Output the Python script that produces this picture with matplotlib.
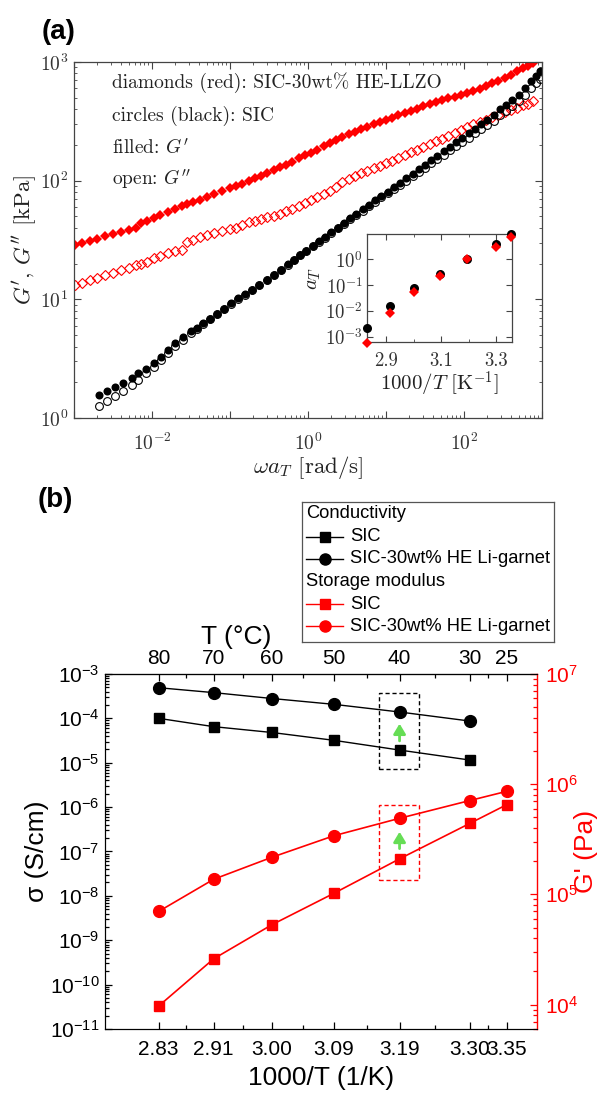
import numpy as np
import matplotlib.pyplot as plt
from matplotlib.patches import Rectangle
from matplotlib.ticker import NullFormatter

plt.rcParams['font.family'] = ['Liberation Sans', 'DejaVu Sans']
plt.rcParams['mathtext.fontset'] = 'custom'
plt.rcParams['mathtext.rm'] = 'Liberation Sans'
plt.rcParams['mathtext.it'] = 'Liberation Sans:italic'
plt.rcParams['mathtext.bf'] = 'Liberation Sans:bold'

CM = ['cmr10', 'DejaVu Serif']

# ---- panel (a): master curves, log10 values ----
red_logw = [-2.99, -2.90, -2.80, -2.70, -2.60, -2.50, -2.40, -2.30, -2.20, -2.14,
            -2.06, -1.98, -1.90, -1.80, -1.70, -1.62, -1.55, -1.47, -1.38, -1.30,
            -1.20, -1.10, -1.00, -0.92, -0.85, -0.76, -0.68, -0.60, -0.52, -0.44,
            -0.36, -0.28, -0.20, -0.12, -0.04, 0.04, 0.12, 0.20, 0.28, 0.36,
            0.44, 0.52, 0.60, 0.68, 0.76, 0.84, 0.92, 1.00, 1.08, 1.16,
            1.24, 1.32, 1.40, 1.48, 1.56, 1.64, 1.72, 1.80, 1.88, 1.96,
            2.04, 2.12, 2.20, 2.28, 2.36, 2.44, 2.52, 2.60, 2.68, 2.76,
            2.82, 2.88]
red_logGp = [1.457, 1.474, 1.494, 1.512, 1.532, 1.550, 1.567, 1.584, 1.600, 1.640,
             1.662, 1.686, 1.710, 1.738, 1.762, 1.786, 1.800, 1.818, 1.838, 1.860,
             1.885, 1.910, 1.936, 1.958, 1.975, 1.998, 2.020, 2.042, 2.065, 2.088,
             2.112, 2.136, 2.160, 2.190, 2.212, 2.236, 2.262, 2.290, 2.318, 2.345,
             2.368, 2.392, 2.412, 2.436, 2.456, 2.474, 2.492, 2.510, 2.530, 2.550,
             2.568, 2.588, 2.606, 2.625, 2.645, 2.662, 2.678, 2.694, 2.708, 2.722,
             2.738, 2.756, 2.776, 2.798, 2.820, 2.842, 2.866, 2.892, 2.920, 2.946,
             2.966, 2.990]
red_logGpp = [1.120, 1.140, 1.162, 1.183, 1.202, 1.222, 1.243, 1.265, 1.288, 1.300,
              1.318, 1.345, 1.365, 1.388, 1.405, 1.418, 1.480, 1.500, 1.527, 1.540,
              1.556, 1.572, 1.590, 1.605, 1.630, 1.648, 1.660, 1.675, 1.690, 1.705,
              1.722, 1.740, 1.758, 1.790, 1.812, 1.835, 1.860, 1.885, 1.910, 1.950,
              1.985, 2.015, 2.040, 2.062, 2.085, 2.105, 2.125, 2.145, 2.165, 2.190,
              2.215, 2.240, 2.262, 2.285, 2.308, 2.330, 2.352, 2.375, 2.398, 2.425,
              2.452, 2.475, 2.495, 2.515, 2.535, 2.555, 2.575, 2.595, 2.615, 2.635,
              2.650, 2.668]

blk_logw = [-2.68, -2.58, -2.47, -2.37, -2.26, -2.18, -2.08, -1.98, -1.88, -1.79,
            -1.70, -1.60, -1.50, -1.42, -1.34, -1.26, -1.17, -1.08, -0.99, -0.90,
            -0.81, -0.72, -0.63, -0.53, -0.44, -0.35, -0.26, -0.18, -0.10, -0.02,
            0.06, 0.14, 0.22, 0.30, 0.38, 0.46, 0.54, 0.62, 0.70, 0.78,
            0.86, 0.94, 1.02, 1.10, 1.18, 1.26, 1.34, 1.42, 1.50, 1.58,
            1.66, 1.74, 1.82, 1.90, 1.98, 2.06, 2.14, 2.22, 2.30, 2.38,
            2.46, 2.54, 2.62, 2.70, 2.78, 2.86, 2.92, 2.97]
blk_logGp = [0.194, 0.227, 0.258, 0.292, 0.334, 0.376, 0.415, 0.460, 0.515, 0.573,
             0.628, 0.685, 0.730, 0.762, 0.800, 0.838, 0.880, 0.922, 0.965, 1.008,
             1.045, 1.082, 1.120, 1.163, 1.205, 1.250, 1.295, 1.335, 1.373, 1.410,
             1.448, 1.488, 1.528, 1.566, 1.605, 1.645, 1.685, 1.722, 1.760, 1.798,
             1.836, 1.872, 1.908, 1.944, 1.982, 2.020, 2.058, 2.096, 2.134, 2.172,
             2.210, 2.248, 2.286, 2.324, 2.362, 2.400, 2.438, 2.476, 2.514, 2.552,
             2.600, 2.640, 2.680, 2.725, 2.780, 2.840, 2.880, 2.920]
blk_logGpp = [0.100, 0.140, 0.185, 0.228, 0.275, 0.320, 0.375, 0.430, 0.488, 0.545,
              0.605, 0.660, 0.712, 0.750, 0.790, 0.830, 0.872, 0.915, 0.958, 1.000,
              1.040, 1.078, 1.118, 1.160, 1.202, 1.245, 1.290, 1.330, 1.370, 1.405,
              1.445, 1.482, 1.520, 1.558, 1.598, 1.636, 1.675, 1.712, 1.748, 1.785,
              1.822, 1.858, 1.893, 1.928, 1.964, 2.000, 2.036, 2.072, 2.108, 2.145,
              2.182, 2.218, 2.255, 2.290, 2.326, 2.362, 2.398, 2.434, 2.470, 2.506,
              2.550, 2.588, 2.628, 2.670, 2.720, 2.780, 2.820, 2.855]

# inset: shift factors
temps_C = [80, 70, 60, 50, 40, 30, 25]
blk_aT = [2.1e-3, 0.016, 0.074, 0.26, 1.0, 4.0, 9.5]
red_aT = [6.0e-4, 8.5e-3, 0.052, 0.23, 1.0, 3.0, 7.5]

# ---- panel (b) ----
inv_T_labels = ['2.83', '2.91', '3.00', '3.09', '3.19', '3.30', '3.35']
temp_labels = ['80', '70', '60', '50', '40', '30', '25']
cond_sic = [1.0e-4, 6.5e-5, 4.8e-5, 3.2e-5, 1.93e-5, 1.15e-5]
cond_garnet = [4.9e-4, 3.8e-4, 2.8e-4, 2.07e-4, 1.39e-4, 8.7e-5]
mod_sic = [9.7e3, 2.6e4, 5.3e4, 1.02e5, 2.1e5, 4.4e5, 6.5e5]
mod_garnet = [7.0e4, 1.37e5, 2.17e5, 3.4e5, 4.9e5, 7.1e5, 8.6e5]

inv_T = [1000.0 / (t + 273.15) for t in temps_C]

fig = plt.figure(figsize=(6.01, 10.95), dpi=100)

# ================= (a) =================
ax = fig.add_axes([0.1231, 0.6183, 0.7787, 0.3251])
ax.set_xscale('log')
ax.set_yscale('log')
rw = np.power(10.0, red_logw)
bw = np.power(10.0, blk_logw)
ax.plot(rw, np.power(10.0, red_logGpp), 'D', ms=4.6, mfc='none', mec='red', mew=0.8)
ax.plot(rw, np.power(10.0, red_logGp), 'D', ms=5.4, color='red', mew=0)
ax.plot(bw, np.power(10.0, blk_logGpp), 'o', ms=5.6, mfc='none', mec='black', mew=0.8)
ax.plot(bw, np.power(10.0, blk_logGp), 'o', ms=5.8, color='black', mew=0)
ax.set_xlim(1e-3, 1e3)
ax.set_ylim(1, 1e3)
ax.set_xticks([1e-3, 1e-2, 1e-1, 1e0, 1e1, 1e2, 1e3],
              labels=['', r'$10^{-2}$', '', r'$10^{0}$', '', r'$10^{2}$', ''],
              math_fontfamily='cm', fontsize=14, color='#333333')
ax.set_yticks([1e0, 1e1, 1e2, 1e3],
              labels=[r'$10^{0}$', r'$10^{1}$', r'$10^{2}$', r'$10^{3}$'],
              math_fontfamily='cm', fontsize=14, color='#333333')
ax.xaxis.set_minor_formatter(NullFormatter())
ax.yaxis.set_minor_formatter(NullFormatter())
ax.tick_params(which='both', direction='in', top=True, right=True, color='#444444')
ax.tick_params(which='major', length=5, width=0.8)
ax.tick_params(which='minor', length=2.5, width=0.6)
ax.tick_params(axis='x', pad=11)
ax.tick_params(axis='y', pad=4)
for s in ax.spines.values():
    s.set_color('#444444')
    s.set_linewidth(0.9)
ax.set_xlabel(r'$\omega a_T$ [rad/s]', fontfamily=CM, math_fontfamily='cm',
              fontsize=16.5, color='#222222', va='center')
ax.xaxis.set_label_coords(0.5, -0.138)
ax.set_ylabel(r"$G'$, $G''$ [kPa]", fontfamily=CM, math_fontfamily='cm',
              fontsize=16.5, color='#222222', va='center')
ax.yaxis.set_label_coords(-0.105, 0.5)

notes = ['diamonds (red): SIC-30wt% HE-LLZO', 'circles (black): SIC',
         r"filled: $G'$", r"open: $G''$"]
for txt, yy in zip(notes, [0.941, 0.848, 0.758, 0.671]):
    ax.text(0.081, yy, txt, transform=ax.transAxes, ha='left', va='center',
            fontfamily=CM, math_fontfamily='cm', fontsize=14, color='#222222')

# inset
axi = fig.add_axes([0.6106, 0.6877, 0.2413, 0.0986])
axi.set_yscale('log')
axi.plot(inv_T, blk_aT, 'o', ms=6.5, color='black', mew=0, clip_on=False, zorder=3)
axi.plot(inv_T, red_aT, 'D', ms=5.2, color='red', mew=0, clip_on=False, zorder=4)
axi.set_xlim(2.83, 3.357)
axi.set_ylim(6.3e-4, 9.5)
axi.set_xticks([2.9, 3.1, 3.3], labels=['2.9', '3.1', '3.3'],
               fontfamily=CM, fontsize=13.5, color='#333333')
axi.set_xticks([3.0, 3.2], minor=True)
axi.set_yticks([1e-3, 1e-2, 1e-1, 1e0],
               labels=[r'$10^{-3}$', r'$10^{-2}$', r'$10^{-1}$', r'$10^{0}$'],
               math_fontfamily='cm', fontsize=13.5, color='#333333')
axi.yaxis.set_minor_formatter(NullFormatter())
axi.tick_params(which='both', direction='in', top=True, right=True, color='#444444')
axi.tick_params(which='major', length=4, width=0.8)
axi.tick_params(which='minor', length=2, width=0.6)
axi.tick_params(axis='x', pad=7)
axi.tick_params(axis='y', pad=3)
for s in axi.spines.values():
    s.set_color('#444444')
    s.set_linewidth(0.9)
axi.set_xlabel(r'$1000/T\ [\mathrm{K}^{-1}]$', math_fontfamily='cm', fontsize=15,
               color='#222222', va='center')
axi.xaxis.set_label_coords(0.5, -0.39)
axi.set_ylabel(r'$a_T$', math_fontfamily='cm', fontsize=15, color='#222222', va='center')
axi.yaxis.set_label_coords(-0.37, 0.59)

fig.text(42 / 601, 1 - 31.7 / 1095, '(a)', ha='left', va='center',
         fontsize=20, fontweight='bold')

# ================= (b) =================
axb = fig.add_axes([0.1747, 0.0603, 0.718, 0.3242])
axb.set_yscale('log')
axb.plot(inv_T[:6], cond_sic, 's-', color='black', ms=7.5, lw=1.0)
axb.plot(inv_T[:6], cond_garnet, 'o-', color='black', ms=8.5, lw=1.0)
axb.set_xlim(2.751, 3.399)
axb.set_ylim(1e-11, 1e-3)
mids = [(a + b) / 2 for a, b in zip(inv_T[:-1], inv_T[1:])]
axb.set_xticks(inv_T, labels=inv_T_labels, fontsize=15)
axb.set_xticks(mids, minor=True)
decs = [1e-11, 1e-10, 1e-9, 1e-8, 1e-7, 1e-6, 1e-5, 1e-4, 1e-3]
axb.set_yticks(decs, labels=[r'$10^{%d}$' % e for e in range(-11, -2)], fontsize=15)
axb.yaxis.set_minor_formatter(NullFormatter())
axb.tick_params(which='both', direction='in', right=False, width=0.9)
axb.tick_params(which='major', length=5)
axb.tick_params(which='minor', length=3)
axb.tick_params(axis='x', pad=8)
axb.tick_params(axis='y', pad=4)
axb.spines['right'].set_visible(False)
axb.set_xlabel('1000/T (1/K)', fontsize=19, va='center')
axb.xaxis.set_label_coords(0.5, -0.138)
axb.set_ylabel('σ (S/cm)', fontsize=19, va='center')
axb.yaxis.set_label_coords(-0.158, 0.5)

# boxes and arrows marking 40 °C
box_x = (3.163, 3.222)
green = '#66dd55'
axb.add_patch(Rectangle((box_x[0], 7.2e-6), box_x[1] - box_x[0], 3.7e-4 - 7.2e-6,
                        fill=False, ec='black', ls=(0, (3, 2)), lw=1.0))
axb.annotate('', xy=(inv_T[4], 7.6e-5), xytext=(inv_T[4], 3.1e-5),
             arrowprops=dict(arrowstyle='-|>,head_length=0.5,head_width=0.3',
                             color=green, lw=2.0, mutation_scale=12,
                             shrinkA=0, shrinkB=0))

sec = axb.secondary_xaxis('top')
sec.set_xticks(inv_T, labels=temp_labels, fontsize=15)
sec.set_xticks(mids, minor=True)
sec.tick_params(which='both', direction='in', width=0.9, pad=4)
sec.tick_params(which='major', length=5)
sec.tick_params(which='minor', length=3)
axb.text(0.304, 1.104, 'T (°C)', transform=axb.transAxes, ha='center', va='center',
         fontsize=19)

axr = axb.twinx()
axr.set_yscale('log')
axr.plot(inv_T, mod_sic, 's-', color='red', ms=7.5, lw=1.2)
axr.plot(inv_T, mod_garnet, 'o-', color='red', ms=8.5, lw=1.2)
axr.set_ylim(6e3, 1e7)
axr.set_yticks([1e4, 1e5, 1e6, 1e7],
               labels=[r'$10^{4}$', r'$10^{5}$', r'$10^{6}$', r'$10^{7}$'], fontsize=15)
axr.yaxis.set_minor_formatter(NullFormatter())
axr.tick_params(which='both', direction='in', colors='red', width=0.9)
axr.tick_params(which='major', length=5, pad=6)
axr.tick_params(which='minor', length=3)
axr.spines['right'].set_color('red')
axr.spines['right'].set_linewidth(1.0)
axr.set_ylabel("G' (Pa)", fontsize=19, color='red', va='center')
axr.yaxis.set_label_coords(1.115, 0.5)
axr.add_patch(Rectangle((box_x[0], 1.35e5), box_x[1] - box_x[0], 6.5e5 - 1.35e5,
                        fill=False, ec='red', ls=(0, (3, 2)), lw=1.0))
axr.annotate('', xy=(inv_T[4], 3.7e5), xytext=(inv_T[4], 2.6e5),
             arrowprops=dict(arrowstyle='-|>,head_length=0.5,head_width=0.3',
                             color=green, lw=2.0, mutation_scale=12,
                             shrinkA=0, shrinkB=0))

fig.text(38 / 601, 1 - 500 / 1095, '(b)', ha='left', va='center',
         fontsize=20, fontweight='bold')

# legend drawn as a small framed box
leg = fig.add_axes([0.5025, 0.4137, 0.4193, 0.1279])
leg.set_xlim(0, 1)
leg.set_ylim(0, 1)
leg.set_xticks([])
leg.set_yticks([])
for s in leg.spines.values():
    s.set_color('#555555')
    s.set_linewidth(0.9)
leg_rows = [('Conductivity', None, None),
            ('SIC', 's', 'black'),
            ('SIC-30wt% HE Li-garnet', 'o', 'black'),
            ('Storage modulus', None, None),
            ('SIC', 's', 'red'),
            ('SIC-30wt% HE Li-garnet', 'o', 'red')]
row_y = [0.921, 0.75, 0.593, 0.429, 0.271, 0.114]
for (lab, mk, col), yy in zip(leg_rows, row_y):
    if mk is None:
        leg.text(0.016, yy, lab, ha='left', va='center', fontsize=13.2)
    else:
        leg.plot([0.016, 0.163], [yy, yy], color=col, lw=1.0)
        leg.plot([0.09], [yy], marker=mk, color=col, ms=8 if mk == 'o' else 7)
        leg.text(0.19, yy, lab, ha='left', va='center', fontsize=13.2)

fig.savefig('out.png', dpi=100)
